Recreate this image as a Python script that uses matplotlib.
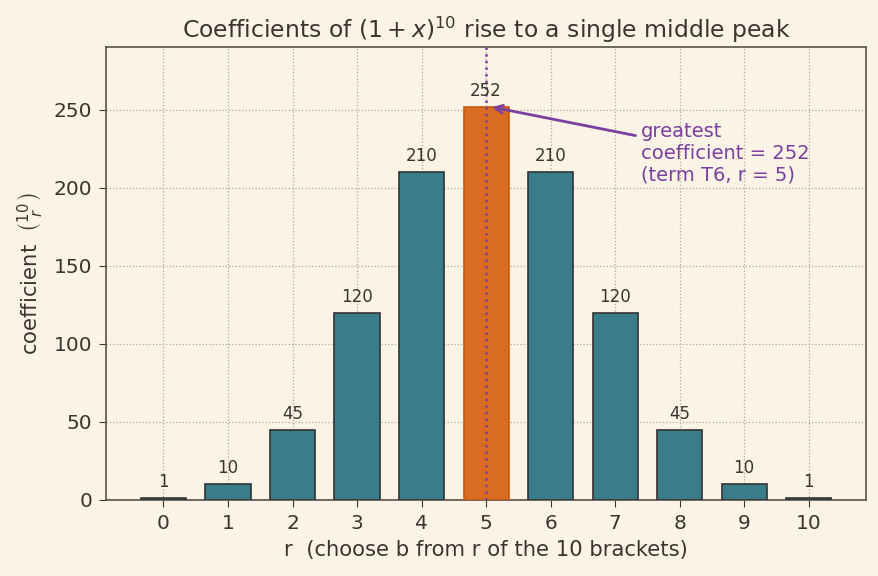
import matplotlib
matplotlib.use("Agg")
import matplotlib.pyplot as plt

r_values = list(range(11))
coefficients = [1, 10, 45, 120, 210, 252, 210, 120, 45, 10, 1]
peak_r = 5

bg = "#fbf3e6"
teal = "#3a7d8a"
orange = "#d96b23"
purple = "#7b3fa0"
textc = "#3b3530"

plt.rcParams["font.family"] = ["DejaVu Sans"]
fig, ax = plt.subplots(figsize=(8.79, 5.76), dpi=100)
fig.patch.set_facecolor(bg)
ax.set_facecolor(bg)

colors = [orange if r == peak_r else teal for r in r_values]
edges = ["#c85a14" if r == peak_r else "#333333" for r in r_values]
bars = ax.bar(r_values, coefficients, width=0.7, color=colors, edgecolor=edges, linewidth=1.2, zorder=3)

for r, c in zip(r_values, coefficients):
    ax.annotate(str(c), (r, c), xytext=(0, 5), textcoords="offset points",
                ha="center", va="bottom", fontsize=12, color=textc, zorder=5)

ax.axvline(peak_r, color=purple, linestyle=":", linewidth=1.8, zorder=4)

ax.annotate("greatest\ncoefficient = 252\n(term T6, r = 5)",
            xy=(5.05, 252), xytext=(7.4, 222),
            fontsize=14, color=purple, ha="left", va="center",
            arrowprops=dict(arrowstyle="->", color=purple, lw=2), zorder=6)

ax.set_ylim(0, 290)
ax.set_xticks(r_values)
ax.grid(True, linestyle=":", color="#b0a898", linewidth=0.9, zorder=0)
ax.set_axisbelow(True)

ax.set_title(r"Coefficients of $(1 + x)^{10}$ rise to a single middle peak", fontsize=16.9, color=textc, pad=7)
ax.set_xlabel("r  (choose b from r of the 10 brackets)", fontsize=15.2, color=textc, labelpad=5)
ax.set_ylabel(r"coefficient  $\binom{10}{r}$", fontsize=15.2, color=textc, labelpad=6)
ax.tick_params(colors=textc, labelsize=14.5, pad=5, length=5)
for s in ax.spines.values():
    s.set_color("#5a5048")
    s.set_linewidth(1.2)

fig.subplots_adjust(left=0.121, right=0.985, top=0.918, bottom=0.132)
fig.savefig("out.png", dpi=100, facecolor=bg)
